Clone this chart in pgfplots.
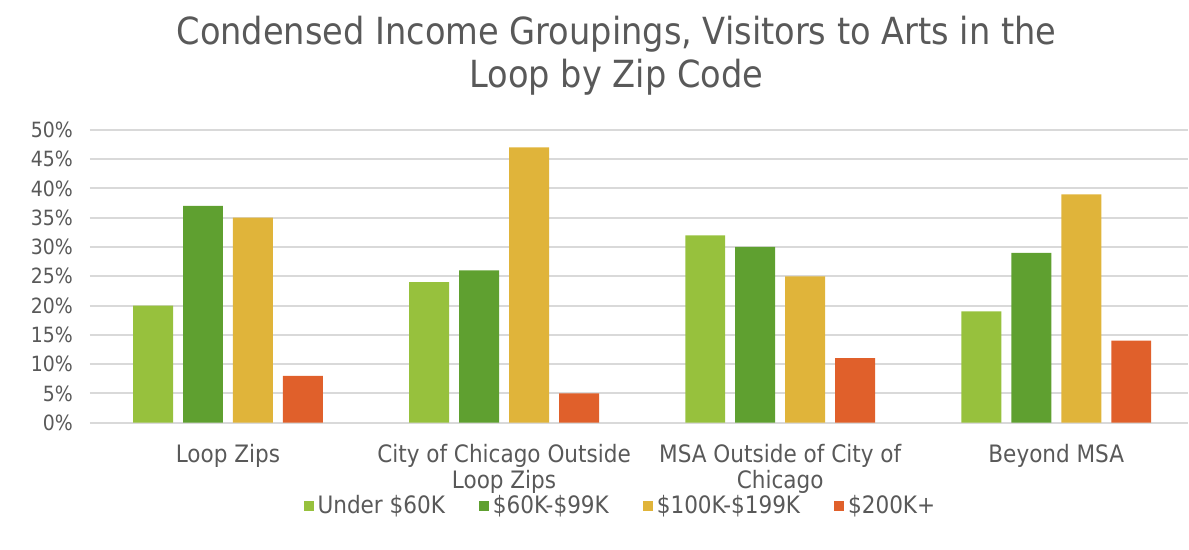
\documentclass[border=0pt]{standalone}
\usepackage{pgfplots}
\pgfplotsset{compat=1.18}
\usepackage{fontspec}
\setmainfont{DejaVu Sans Condensed}

\definecolor{txt}{HTML}{595959}
\definecolor{gridc}{HTML}{D9D9D9}
\definecolor{cA}{HTML}{97C13D}
\definecolor{cB}{HTML}{5FA030}
\definecolor{cC}{HTML}{E0B43A}
\definecolor{cD}{HTML}{E0602B}

\begin{document}
\begin{tikzpicture}
\begin{axis}[
    scale only axis,
    width=549.5pt, height=146.5pt,
    xmin=-0.5, xmax=3.477,
    ymin=0, ymax=50,
    ybar=5pt, bar width=20pt,
    axis line style={draw=none},
    major tick length=0pt,
    ymajorgrids, grid style={gridc, line width=1pt},
    ytick={0,5,...,50},
    yticklabel={\pgfmathprintnumber{\tick}\%},
    yticklabel style={font=\fontsize{10.5}{12}\selectfont, text=txt, xshift=-5pt},
    xtick={0,1,2,3},
    xticklabels={Loop Zips, {City of Chicago Outside\\Loop Zips}, {MSA Outside of City of\\Chicago}, Beyond MSA},
    xticklabel style={font=\fontsize{12}{13}\selectfont, text=txt, align=center, yshift=-7.5pt},
    /pgf/number format/assume math mode=true,
    legend style={at={(0.484,-0.285)}, anchor=center, draw=none, fill=none,
        legend columns=-1, font=\fontsize{12}{14}\selectfont, text=txt,
        /tikz/every even column/.append style={column sep=15pt}},
    legend image code/.code={\fill[#1] (0pt,-2.5pt) rectangle (5pt,2.5pt);},
    clip=false,
]
\addplot[fill=cA, draw=none] coordinates {(0,20) (1,24) (2,32) (3,19)};
\addplot[fill=cB, draw=none] coordinates {(0,37) (1,26) (2,30) (3,29)};
\addplot[fill=cC, draw=none] coordinates {(0,35) (1,47) (2,25) (3,39)};
\addplot[fill=cD, draw=none] coordinates {(0,8) (1,5) (2,11) (3,14)};
\legend{Under \$60K, \$60K-\$99K, \$100K-\$199K, \$200K+}
\node[text=txt, align=center, font=\fontsize{18.7}{21.5}\selectfont]
    at (rel axis cs:0.4795,1.255) {Condensed Income Groupings, Visitors to Arts in the\\Loop by Zip Code};
\end{axis}
\path[use as bounding box] (-45pt,-63.5pt) rectangle (549.5pt,211.5pt);
\end{tikzpicture}
\end{document}
